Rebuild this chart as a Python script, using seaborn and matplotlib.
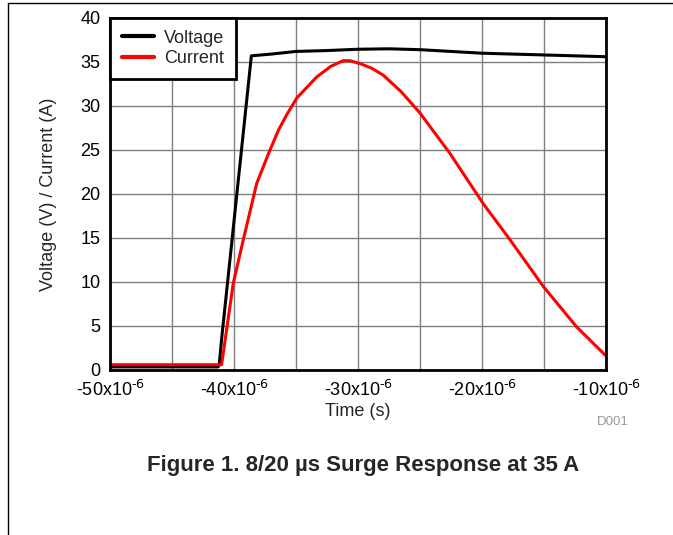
import numpy as np
import pandas as pd
import matplotlib
matplotlib.use("Agg")
import matplotlib.pyplot as plt
import seaborn as sns
from matplotlib.lines import Line2D

# time in microseconds
volt_t = [-50, -45, -41.3, -41.2, -41.0, -38.6, -37, -35, -32.5, -30, -27.5, -25,
          -22.5, -20, -17.5, -15, -12.5, -10]
volt_v = [0.35, 0.35, 0.35, 0.5, 3.5, 35.7, 35.9, 36.2, 36.3, 36.45, 36.5, 36.4,
          36.2, 36.0, 35.9, 35.8, 35.7, 35.6]

curr_t = [-50, -45, -41.2, -41.0, -40.06, -39.25, -38.17, -37.1, -36.4, -35.75, -34.94,
          -33.33, -32.2, -31.2, -30.65, -29.8, -28.9, -27.96, -26.5, -25.0, -22.58,
          -19.9, -17.74, -15.06, -12.37, -10.0]
curr_i = [0.6, 0.6, 0.6, 0.6, 9.85, 14.8, 21.2, 25.0, 27.3, 29.0, 30.9,
          33.3, 34.5, 35.15, 35.15, 34.8, 34.3, 33.5, 31.6, 29.2, 24.6,
          18.9, 14.8, 9.5, 4.9, 1.6]

x_ticks = [-50, -40, -30, -20, -10]
x_labels = [r'-50x10$^{\text{-6}}$', r'-40x10$^{\text{-6}}$', r'-30x10$^{\text{-6}}$',
            r'-20x10$^{\text{-6}}$', r'-10x10$^{\text{-6}}$']
y_ticks = [0, 5, 10, 15, 20, 25, 30, 35, 40]

df = pd.concat([
    pd.DataFrame({'t': volt_t, 'val': volt_v, 'series': 'Voltage'}),
    pd.DataFrame({'t': curr_t, 'val': curr_i, 'series': 'Current'}),
])

sns.set_style("white")
plt.rcParams['font.family'] = ['Liberation Sans', 'DejaVu Sans']
plt.rcParams['mathtext.default'] = 'regular'

fig = plt.figure(figsize=(6.73, 5.35), dpi=100)
ax = fig.add_axes([110 / 673, 1 - 370 / 535, 496 / 673, 352 / 535])

sns.lineplot(data=df, x='t', y='val', hue='series', sort=False,
             palette={'Voltage': 'black', 'Current': '#ff0000'},
             linewidth=2.2, ax=ax)

ax.set_xlim(-50, -10)
ax.set_ylim(0, 40)
ax.set_xticks(x_ticks)
ax.set_xticklabels(x_labels)
ax.set_xticks(np.arange(-45, -10, 10), minor=True)
ax.set_yticks(y_ticks)
ax.grid(True, which='both', color='#7f7f7f', linewidth=1)
ax.set_axisbelow(True)
ax.tick_params(axis='both', which='both', length=0, labelsize=13, colors='black')
ax.tick_params(axis='y', pad=7)
ax.tick_params(axis='x', pad=7)
for s in ax.spines.values():
    s.set_linewidth(2)
    s.set_color('black')

ax.set_xlabel('Time (s)', fontsize=13, labelpad=2)
ax.set_ylabel('Voltage (V) / Current (A)', fontsize=13, labelpad=17)

leg = ax.legend(loc='upper left', borderaxespad=0, fancybox=False, framealpha=1,
                edgecolor='black', fontsize=13, handlelength=1.8, handletextpad=0.55,
                borderpad=0.65, labelspacing=0.2)
leg.get_frame().set_linewidth(2)
for h in leg.get_lines():
    h.set_linewidth(3)

fig.text(613 / 673, 1 - 422 / 535, 'D001', fontsize=9.5, color='#999999', ha='center', va='center')
fig.text(363 / 673, 1 - 466 / 535, 'Figure 1. 8/20 µs Surge Response at 35 A',
         fontsize=16, fontweight='bold', ha='center', va='center')

fig.add_artist(Line2D([8 / 673, 1], [1 - 3 / 535, 1 - 3 / 535], color='black', linewidth=1))
fig.add_artist(Line2D([8 / 673, 8 / 673], [0, 1 - 3 / 535], color='black', linewidth=1))

fig.savefig('out.png', dpi=100)
